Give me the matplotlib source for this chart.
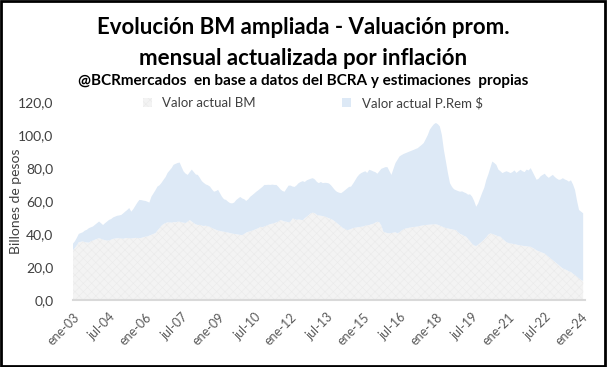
import numpy as np
import pandas as pd
import matplotlib.pyplot as plt

# series (billones de pesos, mensual ene-03 a feb-24)
total_top = [
    # 2003
    34, 35.5, 37.5, 40, 40.5, 41, 42, 42.5, 43.5, 44, 44.5, 45.5,
    # 2004
    46.5, 47.5, 46.5, 45.4, 46.5, 47.5, 48.5, 49, 50, 50.5, 51, 51.2,
    # 2005
    51.5, 52.5, 53.5, 54.5, 55.7, 53.5, 55, 57, 59, 60.6, 60.5, 60.2,
    # 2006
    60, 59.5, 59, 62.6, 64.5, 66.5, 68.7, 69.5, 71, 72.8, 74.5, 77,
    # 2007
    78.5, 80, 81.9, 82.5, 83, 83.3, 80.5, 77.8, 76.5, 75.8, 77.5, 79,
    # 2008
    77.5, 76, 75.8, 74, 72, 70.9, 70, 69.5, 68.7, 67, 65.6, 66,
    # 2009
    66.7, 64.5, 62.5, 61, 60.6, 59.5, 58.7, 58.5, 59, 60.5, 61.5, 62.4,
    # 2010
    61.5, 61, 60, 61, 62.5, 63.5, 64.5, 65.6, 66.5, 67.5, 68.5, 69.7,
    # 2011
    69.7, 69.8, 69.7, 69.9, 69.7, 69.7, 68.5, 67, 66, 65.6, 67.5, 69.3,
    # 2012
    69.3, 68.7, 68.5, 69.5, 70.8, 71.5, 72, 71.5, 72.5, 73, 73.5, 73.8,
    # 2013
    73, 71.5, 70.8, 71.5, 70.8, 71, 70.9, 70.6, 69.5, 68, 66.5, 65.5,
    # 2014
    65, 64.7, 65.5, 66.5, 67.5, 68.5, 68.7, 70.5, 72.5, 74.5, 76, 76.9,
    # 2015
    77.5, 78, 77, 78.9, 78.5, 77.9, 77.5, 76.5, 78, 79.5, 80, 80.5,
    # 2016
    80.5, 78, 75.8, 79.5, 83, 85, 87, 87.8, 88.5, 89, 89.5, 90,
    # 2017
    90.5, 91, 91.5, 92, 93, 94, 95.1, 97.5, 100, 103.2, 105, 106.5,
    # 2018
    107.3, 106.5, 105.2, 100, 91, 84, 77, 70.8, 68.5, 67.1, 66.5, 66,
    # 2019
    65.6, 65.8, 65.2, 64.7, 63.8, 64, 62.6, 60, 56.5, 58.5, 61.8, 65,
    # 2020
    68, 72.8, 76, 80, 83.9, 83, 81.9, 79, 78, 76.9, 77.5, 78,
    # 2021
    77.5, 76.9, 77.5, 78.5, 77, 78, 78.9, 78, 77.5, 79, 78.5, 79.9,
    # 2022
    77.5, 75, 72.8, 73.5, 75, 75.8, 76.5, 75, 74, 75, 75.8, 74.5,
    # 2023
    73.5, 72.8, 73, 73.8, 73, 72.5, 71.7, 72.5, 70, 66.7, 60, 54.5,
    # 2024
    53.5, 52.5,
]

bm = [
    30, 31.5, 33, 35, 35.2, 35.5, 35, 34.8, 34.7, 35.5, 36, 36.5,
    37, 37.4, 37, 36.5, 36.2, 36, 36, 36.5, 37, 37.2, 37.4, 37.4,
    37.2, 37, 37.4, 37.5, 37.4, 37.2, 37.4, 37.6, 37.5, 37.4, 37.6, 38,
    38.3, 38.5, 39, 39.5, 40, 40.5, 42, 43.5, 45, 46, 46.6, 47,
    47, 46.8, 47.2, 47, 47.4, 47.4, 47, 46.8, 46.6, 47.5, 48.4, 47.5,
    46.5, 45.8, 45.4, 45.5, 45, 44.8, 45, 44.5, 44.3, 43.5, 43, 42.5,
    42, 41.8, 41.5, 41.3, 41, 40.8, 40.5, 40.2, 40, 39.8, 39.6, 39.4,
    39.3, 40, 40.8, 41.3, 41.5, 42, 42.5, 43, 43.5, 44.3, 44, 44.5,
    45, 45.5, 46, 46.2, 46.6, 47, 47.5, 48.4, 48, 47.5, 47.4, 47,
    47.5, 49.4, 49, 48.5, 48.8, 48.5, 48.4, 49.5, 50.5, 51.5, 52.5, 52.9,
    52.5, 51.5, 51.2, 51, 50.8, 50.5, 50, 49.5, 49, 48.4, 47.5, 46.5,
    45.5, 44.5, 43.5, 43, 42.3, 42.5, 43, 43.5, 43.8, 44, 44.2, 44.3,
    44.5, 45, 45.2, 45.4, 45.8, 46.2, 46.8, 47.4, 47, 45, 41.3, 40.8,
    40.5, 40.3, 40.5, 40.8, 41, 40.3, 41, 42, 42.8, 43.3, 43.5, 43.8,
    44, 44.2, 44.3, 44.5, 44.8, 45, 45.2, 45.4, 45.5, 45.6, 45.7, 45.8,
    45.8, 45.5, 45, 44.5, 44, 43.5, 43.3, 43, 42.8, 42.5, 42.3, 41,
    40, 39.5, 38.8, 38.3, 37, 35.5, 34, 33, 32.6, 33.5, 34.5, 35.5,
    36.7, 38, 39.5, 40.3, 40, 39.5, 39, 38.5, 38.3, 37, 36, 35,
    34.5, 34.2, 34, 33.8, 33.5, 33.2, 33, 32.8, 32.6, 32.5, 32.3, 32.2,
    31.5, 30.8, 30, 29.5, 29, 28.5, 28.1, 27, 26, 25, 24, 23,
    22, 21, 20, 19, 18.5, 18, 17.2, 16.9, 15.8, 15, 14, 13,
    12, 11.5,
]

fechas = pd.date_range("2003-01-01", periods=len(bm), freq="MS")
prem = np.array(total_top) - np.array(bm)

tick_fechas = pd.date_range("2003-01-01", "2024-01-01", freq="18MS")
meses = {1: "ene", 7: "jul"}
tick_labels = [f"{meses[d.month]}-{d.strftime('%y')}" for d in tick_fechas]

plt.rcParams["font.family"] = ["Lato", "DejaVu Sans"]
plt.rcParams["hatch.linewidth"] = 0.4

fig = plt.figure(figsize=(6.07, 3.67), dpi=100)
ax = fig.add_axes([0.120, 0.183, 0.844, 0.539])

areas = ax.stackplot(fechas, bm, prem, colors=["#f3f3f3", "#dde9f6"],
                     labels=["Valor actual BM", "Valor actual P.Rem $"], linewidth=0)
areas[0].set_hatch("xxxx")
areas[0].set_edgecolor("#eaeaea")

ax.set_ylim(0, 120)
ax.set_yticks(np.arange(0, 121, 20))
ax.set_yticklabels([f"{v:.1f}".replace(".", ",") for v in np.arange(0, 121, 20)],
                   fontsize=10, color="#404040")
ax.set_xlim(fechas[0], fechas[-1] + pd.Timedelta(days=30))
ax.set_xticks(tick_fechas)
ax.set_xticklabels(tick_labels, rotation=45, ha="right", rotation_mode="anchor",
                   fontsize=9, color="#595959")
ax.tick_params(axis="both", length=0)
ax.tick_params(axis="x", pad=8)
ax.tick_params(axis="y", pad=14)
for s in ["top", "right", "left"]:
    ax.spines[s].set_visible(False)
ax.spines["bottom"].set_color("#d9d9d9")
ax.spines["bottom"].set_linewidth(1.5)
ax.set_ylabel("Billones de pesos", fontsize=10, color="#404040")
ax.yaxis.set_label_coords(-0.100, 0.5)

fig.legend(loc="center", bbox_to_anchor=(0.515, 0.72), ncol=2, frameon=False,
           fontsize=9.5, labelcolor="#404040", handlelength=0.7, handleheight=0.7,
           columnspacing=6.5)

fig.text(0.5, 0.925, "Evolución BM ampliada - Valuación prom.", ha="center",
         va="center", fontsize=16, fontweight="bold")
fig.text(0.5, 0.84, "mensual actualizada por inflación", ha="center",
         va="center", fontsize=16, fontweight="bold")
fig.text(0.5, 0.78, "@BCRmercados  en base a datos del BCRA y estimaciones  propias",
         ha="center", va="center", fontsize=11, fontweight="bold")

fig.patches.append(plt.Rectangle((0.002, 0.003), 0.995, 0.994, transform=fig.transFigure,
                                 fill=False, edgecolor="black", linewidth=2))

plt.savefig("out.png", dpi=100)
